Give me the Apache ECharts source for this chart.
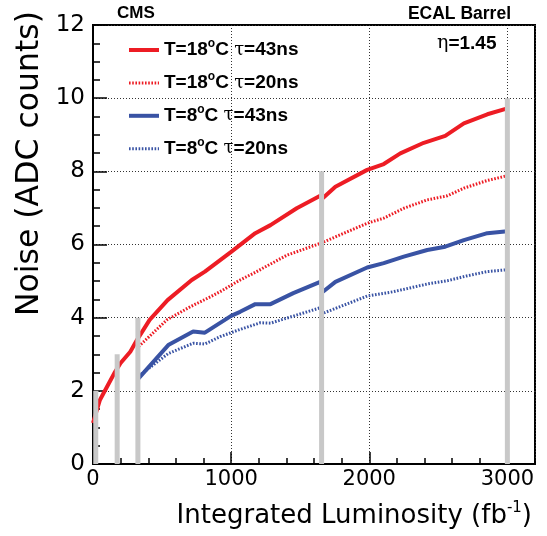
<!DOCTYPE html>
<html lang="en">
<head>
    <meta charset="utf-8">
    <title>ECAL Barrel noise</title>
    <script src="https://cdn.jsdelivr.net/npm/echarts@6/dist/echarts.min.js"></script>
    <style>
        html, body { margin: 0; padding: 0; background: #fff; }
        #chart { width: 547px; height: 536px; }
    </style>
</head>
<body>
<div id="chart"></div>

<script>
    // T=18C, tau=43ns
    var lumiA  = [0, 50, 160, 200, 270, 320, 410, 540, 715, 810, 1000, 1175, 1285, 1475, 1645, 1665, 1755, 1985, 2105, 2225, 2395, 2550, 2685, 2855, 3000];
    var noiseA = [1.12, 1.75, 2.52, 2.76, 3.07, 3.40, 3.94, 4.48, 5.03, 5.26, 5.80, 6.31, 6.53, 6.99, 7.33, 7.27, 7.58, 8.04, 8.20, 8.49, 8.78, 8.97, 9.31, 9.56, 9.72];
    // T=18C, tau=20ns
    var lumiB  = [330, 535, 705, 850, 920, 1065, 1160, 1405, 1645, 1985, 2105, 2250, 2420, 2565, 2685, 2855, 3000];
    var noiseB = [3.21, 3.94, 4.30, 4.57, 4.71, 5.03, 5.21, 5.71, 6.03, 6.58, 6.72, 6.99, 7.22, 7.33, 7.54, 7.75, 7.88];
    // T=8C, tau=43ns
    var lumiC  = [330, 545, 725, 810, 1000, 1065, 1175, 1285, 1450, 1645, 1665, 1755, 1985, 2105, 2250, 2420, 2550, 2685, 2855, 3000];
    var noiseC = [2.34, 3.25, 3.62, 3.59, 4.05, 4.16, 4.37, 4.37, 4.67, 4.98, 4.71, 4.98, 5.37, 5.49, 5.67, 5.85, 5.94, 6.12, 6.31, 6.36];
    // T=8C, tau=20ns
    var lumiD  = [330, 545, 725, 810, 920, 1065, 1210, 1285, 1645, 1665, 1985, 2175, 2420, 2565, 2705, 2855, 3000];
    var noiseD = [2.40, 3.02, 3.30, 3.28, 3.48, 3.68, 3.86, 3.85, 4.27, 4.12, 4.59, 4.71, 4.92, 5.01, 5.14, 5.26, 5.31];

    // grey markers
    var barLumi = [20, 175, 325, 1655, 3000];
    var barTop  = [2, 3, 4, 8, 10];

    var seriesNames = ['T=18°C τ=43ns', 'T=18°C τ=20ns', 'T=8°C τ=43ns', 'T=8°C τ=20ns'];
    var legendTemp = ['18', '18', '8', '8'];
    var legendTau  = ['43', '20', '43', '20'];
    var dottedFlag = [false, true, false, true];

    var RED = '#ed1c24', BLUE = '#3953a4';

    function pairs(xs, ys) {
        return xs.map(function (x, i) { return [x, ys[i]]; });
    }

    function lineSeries(name, xs, ys, color, dotted) {
        return {
            name: name,
            type: 'line',
            data: pairs(xs, ys),
            symbol: 'none',
            z: 3,
            lineStyle: { color: color, width: dotted ? 3 : 4, type: dotted ? [1.6, 1.6] : 'solid' },
            itemStyle: { color: color }
        };
    }

    var chart = echarts.init(document.getElementById('chart'));
    chart.setOption({
        animation: false,
        grid: {
            left: 93, right: 12, top: 25, bottom: 72,
            show: true, borderColor: '#000', borderWidth: 2
        },
        legend: {
            orient: 'vertical',
            left: 127, top: 38, padding: 0,
            itemWidth: 30, itemHeight: 10, itemGap: 11.4,
            itemStyle: { opacity: 0, borderWidth: 0 },
            data: seriesNames.map(function (n, i) {
                return { name: n, lineStyle: { width: dottedFlag[i] ? 3 : 4 } };
            }),
            formatter: function (name) {
                var i = seriesNames.indexOf(name);
                return '{b|T=' + legendTemp[i] + '}{s|o}{b|C }{g|τ}{b|=' + legendTau[i] + 'ns}';
            },
            textStyle: {
                fontFamily: 'Liberation Sans', fontSize: 19, fontWeight: 'bold', color: '#000',
                rich: {
                    b: { fontFamily: 'Liberation Sans', fontSize: 19, fontWeight: 'bold', lineHeight: 24, color: '#000' },
                    s: { fontFamily: 'Liberation Sans', fontSize: 12, fontWeight: 'bold', lineHeight: 12, verticalAlign: 'top', color: '#000' },
                    g: { fontFamily: 'DejaVu Serif', fontSize: 18, fontWeight: 'normal', lineHeight: 24, color: '#000' }
                }
            }
        },
        xAxis: [{
            type: 'value', min: 0, max: 3200, interval: 1000,
            position: 'bottom',
            axisLine: { lineStyle: { color: '#000', width: 2 } },
            axisTick: { inside: true, length: 12, lineStyle: { color: '#000', width: 1.5 } },
            axisLabel: {
                fontFamily: 'DejaVu Sans', fontSize: 21, color: '#000', margin: 5, showMaxLabel: false,
                formatter: function (v) { return String(v); }
            },
            splitLine: { show: true, lineStyle: { color: '#333', width: 1, type: [1, 2] } }
        }, {
            type: 'value', min: 0, max: 3200, interval: 200,
            position: 'top', offset: -439,
            axisLine: { show: false },
            axisTick: { inside: false, length: 6, lineStyle: { color: '#000', width: 1.5 } },
            axisLabel: { show: false },
            splitLine: { show: false }
        }],
        yAxis: {
            type: 'value', min: 0, max: 12, interval: 2,
            axisLine: { lineStyle: { color: '#000', width: 2 } },
            axisTick: { inside: true, length: 14, lineStyle: { color: '#000', width: 1.5 } },
            minorTick: { show: true, splitNumber: 4, length: 7, lineStyle: { color: '#000', width: 1.5 } },
            axisLabel: { fontFamily: 'DejaVu Sans', fontSize: 23, color: '#000', margin: 8 },
            splitLine: { show: true, lineStyle: { color: '#333', width: 1, type: [1, 2] } }
        },
        series: [
            lineSeries(seriesNames[0], lumiA, noiseA, RED, false),
            lineSeries(seriesNames[1], lumiB, noiseB, RED, true),
            lineSeries(seriesNames[2], lumiC, noiseC, BLUE, false),
            lineSeries(seriesNames[3], lumiD, noiseD, BLUE, true),
            {
                type: 'custom',
                z: 10,
                silent: true,
                data: pairs(barLumi, barTop),
                encode: { x: 0, y: 1 },
                renderItem: function (params, api) {
                    var p0 = api.coord([api.value(0), 0]);
                    var p1 = api.coord([api.value(0), api.value(1)]);
                    return {
                        type: 'rect',
                        shape: { x: p0[0] - 2.5, y: p1[1], width: 5, height: p0[1] - p1[1] },
                        style: { fill: '#c8c8c8' }
                    };
                }
            }
        ],
        graphic: [
            { type: 'text', left: 117, top: 5,
              style: { text: 'CMS', fontFamily: 'Liberation Sans', fontWeight: 'bold', fontSize: 17, fill: '#000' } },
            { type: 'text', right: 36, top: 5,
              style: { text: 'ECAL Barrel', fontFamily: 'Liberation Sans', fontWeight: 'bold', fontSize: 17.5, fill: '#000' } },
            { type: 'text', left: 437, top: 34,
              style: {
                  text: '{g|η}{b|=1.45}',
                  rich: {
                      g: { fontFamily: 'DejaVu Serif', fontSize: 19, fill: '#000' },
                      b: { fontFamily: 'Liberation Sans', fontWeight: 'bold', fontSize: 19, fill: '#000' }
                  }
              } },
            { type: 'text', x: 532, y: 516,
              style: {
                  text: '{a|Integrated Luminosity (fb}{s|-1}{a|)}',
                  align: 'right', verticalAlign: 'middle',
                  rich: {
                      a: { fontFamily: 'DejaVu Sans', fontSize: 26, lineHeight: 30, fill: '#000' },
                      s: { fontFamily: 'DejaVu Sans', fontSize: 15, lineHeight: 17, verticalAlign: 'top', fill: '#000' }
                  }
              } },
            { type: 'text', x: 30, y: 11, rotation: Math.PI / 2,
              style: {
                  text: 'Noise (ADC counts)',
                  align: 'right', verticalAlign: 'middle',
                  fontFamily: 'DejaVu Sans', fontSize: 31.5, fill: '#000'
              } }
        ]
    });
</script>
</body>
</html>
